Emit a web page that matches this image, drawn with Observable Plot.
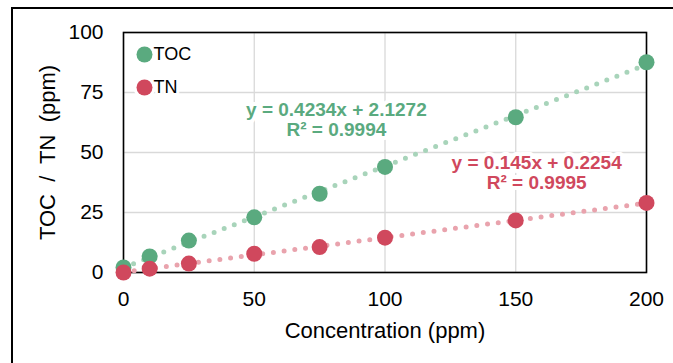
<!DOCTYPE html>
<html><head><meta charset="utf-8">
<script src="https://cdn.jsdelivr.net/npm/d3@7"></script>
<script src="https://cdn.jsdelivr.net/npm/@observablehq/plot@0.6"></script>
<style>
body{margin:0;background:#fff;}
#wrap{position:relative;width:673px;height:363px;overflow:hidden;background:#fff;}
#border{position:absolute;left:11px;top:7px;width:700px;height:400px;border:2px solid #000;box-sizing:border-box;}
#chart{position:absolute;left:0;top:0;}
svg text{white-space:pre;}
</style></head><body>
<div id="wrap"><div id="border"></div><div id="chart"></div></div>
<script>
const concentration = [0, 10, 25, 50, 75, 100, 150, 200];
const toc = [2.1, 6.7, 13.3, 23, 32.8, 44, 64.7, 87.6];
const tn = [0, 1.6, 3.7, 7.8, 10.6, 14.5, 21.7, 29];
const seriesNames = ["TOC", "TN"];
const seriesColors = ["#5aaa7f", "#d0485d"];
const trendColors = ["#a8d4ba", "#e9a3ad"];
const equations = ["y = 0.4234x + 2.1272\nR² = 0.9994", "y = 0.145x + 0.2254\nR² = 0.9995"];
const xTicks = [0, 50, 100, 150, 200];
const yTicks = [0, 25, 50, 75, 100];
const xTitle = "Concentration (ppm)";
const yTitle = "TOC  /  TN  (ppm)";
// annotation anchors for the trendline equations (data units)
const eqX = [81.4, 158];
const eqY = [63.6, 41.6];

const seriesValues = [toc, tn];
const series = seriesNames.map((name, k) =>
  concentration.map((c, i) => ({x: c, y: seriesValues[k][i], s: name})));

const fontFamily = "'Liberation Sans', Arial, sans-serif";

const marks = [
  Plot.gridX(xTicks, {stroke: "#d9d9d9", strokeOpacity: 1, strokeWidth: 1.3}),
  Plot.gridY(yTicks, {stroke: "#d9d9d9", strokeOpacity: 1, strokeWidth: 1.3}),
  Plot.frame({stroke: "#000", strokeWidth: 1.6}),
  ...series.map((d, k) => Plot.linearRegressionY(d, {
    x: "x", y: "y", ci: 0, stroke: trendColors[k], strokeWidth: 5,
    strokeDasharray: "0 10.8", strokeLinecap: "round"
  })),
  ...series.map((d, k) => Plot.dot(d, {x: "x", y: "y", r: 8, fill: seriesColors[k], stroke: null})),
  ...equations.map((t, k) => Plot.text([t], {
    x: () => eqX[k], y: () => eqY[k], text: d => d, fill: seriesColors[k],
    fontSize: 19, fontWeight: "bold", lineHeight: 1.05, textAnchor: "middle",
    stroke: "white", strokeWidth: 8
  })),
  ...seriesNames.map((s, k) => Plot.dot([s], {
    frameAnchor: "top-left", dx: 21, dy: 22 + 33 * k, r: 8, fill: seriesColors[k], stroke: "white", strokeWidth: 6, paintOrder: "stroke"
  })),
  ...seriesNames.map((s, k) => Plot.text([s], {
    frameAnchor: "top-left", dx: 30, dy: 22 + 33 * k, text: d => d, textAnchor: "start", lineAnchor: "middle",
    fontSize: 18, fill: "#000", stroke: "white", strokeWidth: 6
  })),
  Plot.axisX(xTicks, {tickSize: 0, tickPadding: 19, fontSize: 21, label: null, fill: "#000"}),
  Plot.axisY(yTicks, {tickSize: 0, tickPadding: 20, fontSize: 21, label: null, fill: "#000"}),
  Plot.text([xTitle], {frameAnchor: "bottom", dy: 58, text: d => d, textAnchor: "middle", lineAnchor: "middle", fontSize: 22, fill: "#000"}),
  Plot.text([yTitle], {frameAnchor: "left", dx: -76, rotate: -90, text: d => d, textAnchor: "middle", lineAnchor: "middle", fontSize: 22, fill: "#000"})
];

const chart = Plot.plot({
  width: 673, height: 363,
  marginLeft: 123, marginRight: 27, marginTop: 32, marginBottom: 91,
  x: {domain: [0, 200]},
  y: {domain: [0, 100]},
  style: {fontFamily, color: "#000", background: "transparent", overflow: "visible"},
  marks
});
document.getElementById("chart").appendChild(chart);
</script>
</body></html>
